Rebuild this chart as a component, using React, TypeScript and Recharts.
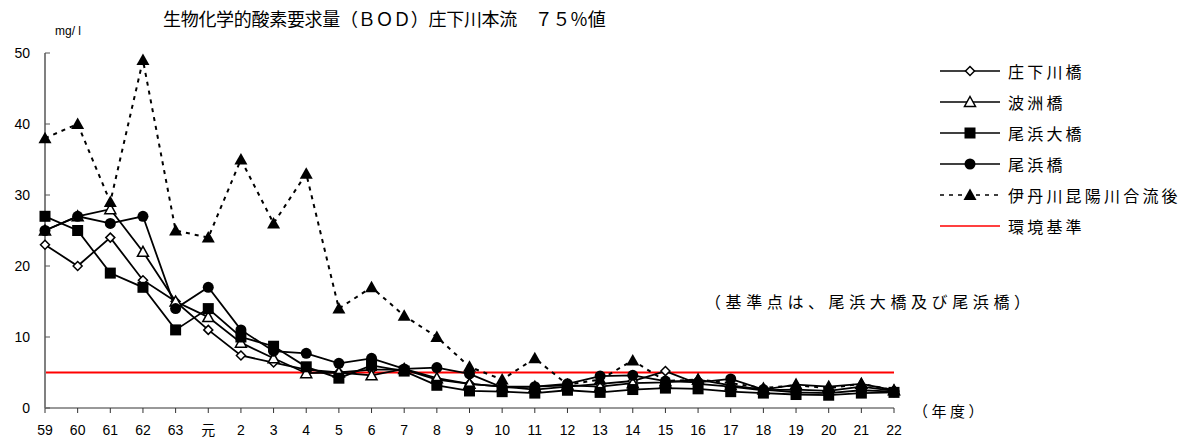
import { LineChart, Line, XAxis, YAxis, ReferenceLine } from "recharts"

const years = ["59", "60", "61", "62", "63", "元", "2", "3", "4", "5", "6", "7", "8", "9", "10", "11", "12", "13", "14", "15", "16", "17", "18", "19", "20", "21", "22"]

const shogegawaBashi = [23, 20, 24, 18, 15, 11, 7.4, 6.4, 5.4, 5, 5.4, 5.4, 4, 3.4, 3, 2.6, 3, 3.4, 3.8, 5.2, 3.4, 3, 2.5, 2.6, 2.4, 3, 2.4]
const hasuBashi = [25, 27, 28, 22, 15, 12.8, 9.2, 7, 4.9, 5, 4.6, 5.5, 4.2, 3.4, 3, 3, 3.2, 3, 3.5, 3.6, 4, 3.2, 2.6, 3.3, 3, 3.4, 2.5]
const obamaOhashi = [27, 25, 19, 17, 11, 14, 10, 8.7, 5.8, 4.2, 6, 5.2, 3.2, 2.4, 2.3, 2.1, 2.5, 2.2, 2.6, 2.8, 2.7, 2.3, 2.1, 1.9, 1.8, 2.1, 2.2]
const obamaBashi = [25, 27, 26, 27, 14, 17, 11, 8, 7.7, 6.3, 7, 5.5, 5.7, 4.8, 2.9, 3, 3.4, 4.5, 4.6, 3.8, 3.6, 4.1, 2.6, 2.2, 2.1, 2.5, 2.3]
const itamiKoyaGoryugo = [38, 40, 29, 49, 25, 24, 35, 26, 33, 14, 17, 13, 10, 5.8, 4, 7, 3.3, 4, 6.7, 3.8, 4, 3.5, 2.8, 3.2, 2.8, 3.4, 2.5]

const envStandard = 5
const yTicks = [0, 10, 20, 30, 40, 50]

const data = years.map((y, i) => ({
	year: y,
	s1: shogegawaBashi[i],
	s2: hasuBashi[i],
	s3: obamaOhashi[i],
	s4: obamaBashi[i],
	s5: itamiKoyaGoryugo[i],
}))

const FONT = "'Liberation Sans', 'Noto Sans CJK JP', sans-serif"

type Shape = "diamond" | "triangleOpen" | "square" | "circle" | "triangle"

function Marker({ shape, cx, cy }: { shape: Shape; cx: number; cy: number }) {
	switch (shape) {
		case "diamond":
			return <path d={`M${cx},${cy - 4.5}L${cx + 4.5},${cy}L${cx},${cy + 4.5}L${cx - 4.5},${cy}Z`} fill="#fff" stroke="#000" strokeWidth={1.5} />
		case "triangleOpen":
			return <path d={`M${cx},${cy - 5.5}L${cx + 5.5},${cy + 4.5}L${cx - 5.5},${cy + 4.5}Z`} fill="#fff" stroke="#000" strokeWidth={1.5} />
		case "square":
			return <rect x={cx - 5.5} y={cy - 5.5} width={11} height={11} fill="#000" />
		case "circle":
			return <circle cx={cx} cy={cy} r={5.5} fill="#000" />
		case "triangle":
			return <path d={`M${cx},${cy - 6.5}L${cx + 6.5},${cy + 5}L${cx - 6.5},${cy + 5}Z`} fill="#000" />
	}
}

const series: { key: string; name: string; shape: Shape; dashed?: boolean }[] = [
	{ key: "s1", name: "庄下川橋", shape: "diamond" },
	{ key: "s2", name: "波洲橋", shape: "triangleOpen" },
	{ key: "s3", name: "尾浜大橋", shape: "square" },
	{ key: "s4", name: "尾浜橋", shape: "circle" },
	{ key: "s5", name: "伊丹川昆陽川合流後", shape: "triangle", dashed: true },
]

// legend drawn by hand so it doesn't eat into the plot width
function LegendBox() {
	return (
		<div style={{ position: "absolute", left: 940, top: 55, fontSize: 16, letterSpacing: 3.2, color: "#000", whiteSpace: "nowrap" }}>
			{series.map((s) => (
				<div key={s.key} style={{ display: "flex", alignItems: "center", height: 31 }}>
					<svg width={68} height={20}>
						<line x1={0} y1={10} x2={60} y2={10} stroke="#000" strokeWidth={1.5} strokeDasharray={s.dashed ? "4 5" : undefined} />
						<Marker shape={s.shape} cx={30} cy={10} />
					</svg>
					<span>{s.name}</span>
				</div>
			))}
			<div style={{ display: "flex", alignItems: "center", height: 31 }}>
				<svg width={68} height={20}>
					<line x1={0} y1={10} x2={60} y2={10} stroke="#ff0000" strokeWidth={1.5} />
				</svg>
				<span>環境基準</span>
			</div>
		</div>
	)
}

function YTick(props: any) {
	const { x, y, payload } = props
	return (
		<g>
			<line x1={45} y1={y} x2={50} y2={y} stroke="#555" strokeWidth={1} />
			<text x={x} y={y} dy={5} textAnchor="end" fontSize={14} fontFamily={FONT} fill="#000">
				{payload.value}
			</text>
		</g>
	)
}

export default function App() {
	return (
		<div style={{ position: "absolute", left: 0, top: 0, width: 1184, height: 442, background: "#fff", fontFamily: FONT }}>
			<div style={{ position: "absolute", left: 163, top: 5, fontSize: 18, letterSpacing: -0.3, whiteSpace: "pre" }}>
				生物化学的酸素要求量（ＢＯＤ）庄下川本流　７５％値
			</div>
			<div style={{ position: "absolute", left: 55, top: 24, fontSize: 12 }}>mg/ l</div>
			<div style={{ position: "absolute", left: 705, top: 289, fontSize: 16, letterSpacing: 4.6, whiteSpace: "pre" }}>（基準点は、尾浜大橋及び尾浜橋）</div>
			<div style={{ position: "absolute", left: 913, top: 400, fontSize: 15, letterSpacing: 3.5, whiteSpace: "pre" }}>（年度）</div>
			<LineChart width={1184} height={442} data={data} margin={{ top: 53, right: 290, left: 0, bottom: 4 }}>
				<XAxis
					dataKey="year"
					height={30}
					interval={0}
					tickSize={5}
					tickMargin={12}
					stroke="#333"
					tick={{ fontSize: 14, fill: "#000", fontFamily: FONT }}
				/>
				<YAxis
					width={45}
					domain={[0, 50]}
					ticks={yTicks}
					tickSize={0}
					tickMargin={15}
					stroke="#808080"
					strokeWidth={2}
					tick={<YTick />}
				/>
				<ReferenceLine y={envStandard} stroke="#ff0000" strokeWidth={2} ifOverflow="visible" />
				{series.map((s) => (
					<Line
						key={s.key}
						dataKey={s.key}
						name={s.name}
						type="linear"
						stroke="#000"
						strokeWidth={s.dashed ? 2 : 1.8}
						strokeDasharray={s.dashed ? "4 5" : undefined}
						isAnimationActive={false}
						dot={(p: any) => (
							<g key={`${s.key}-${p.index}`}>
								<Marker shape={s.shape} cx={p.cx} cy={p.cy} />
							</g>
						)}
						activeDot={false}
					/>
				))}
			</LineChart>
			<LegendBox />
		</div>
	)
}
